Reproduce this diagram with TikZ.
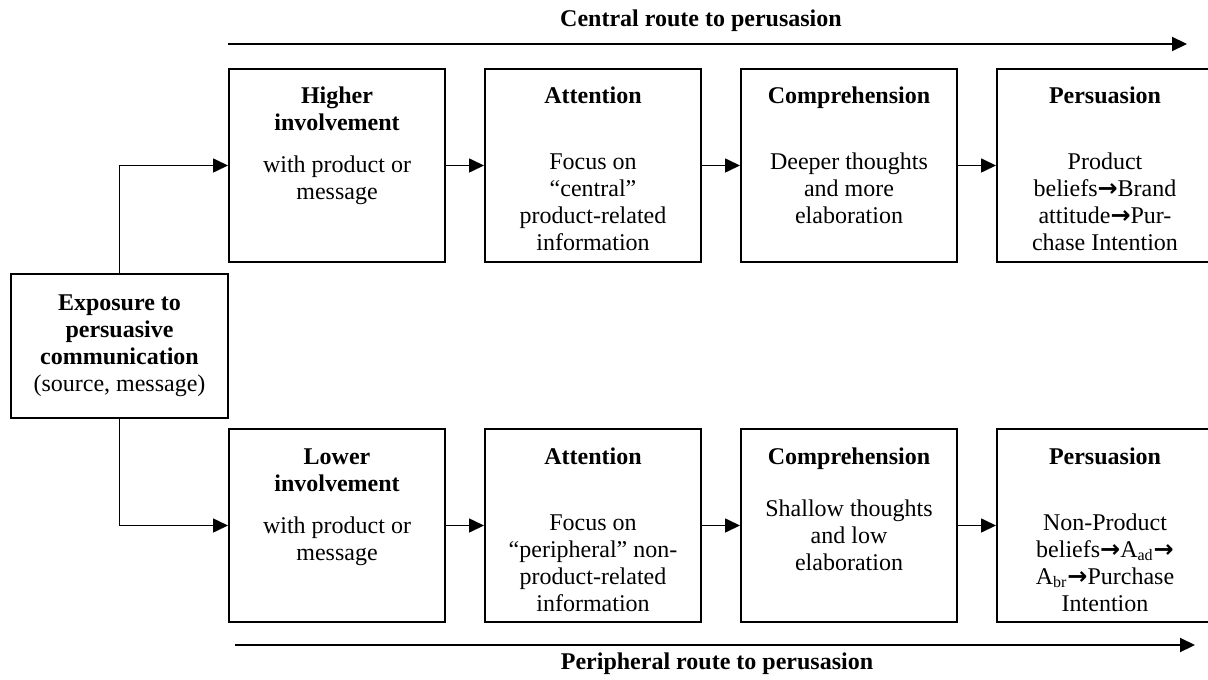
\documentclass[tikz,border=0pt]{standalone}
\usepackage{fontspec}
\setmainfont{Liberation Serif}
\newfontfamily\arrowfont{DejaVu Sans}
\usetikzlibrary{arrows.meta,positioning}

% text of one stage: bold title, gap, body
\newcommand{\stagebox}[3]{\parbox[t][96.5pt][t]{106pt}{\centering\rule{0pt}{17.5pt}\textbf{#1}\par\vspace{#2}#3}}
\newcommand{\goesto}{{\arrowfont\bfseries →}}

\begin{document}
\begin{tikzpicture}[
                x=0.5pt, y=-0.5pt,
                >={Triangle[length=7.5pt,width=7pt]},
                every node/.style={font=\fontsize{12}{13.5}\selectfont},
                stage/.style={draw, line width=1pt, inner sep=0pt, minimum width=108pt, minimum height=96.5pt},
                link/.style={->, line width=0.8pt},
                route/.style={->, line width=1pt},
                routelabel/.style={font=\fontsize{12}{13.5}\selectfont\bfseries}
            ]
            \useasboundingbox (0,0) rectangle (1208,679);

            % exposure box on the left
            \node[draw, line width=1pt, inner sep=0pt, minimum width=108.5pt, minimum height=72pt, align=center] (expo) at (119.5,346)
                {\textbf{Exposure to}\\\textbf{persuasive}\\\textbf{communication}\\(source, message)};

            % central route
            \node[stage, anchor=north west] (hi) at (228,68) {\stagebox{Higher\\involvement}{7.5pt}{with product or\\message}};
            \node[stage, right=19pt of hi] (att1) {\stagebox{Attention}{19.5pt}{Focus on\\“central”\\product-related\\information}};
            \node[stage, right=19pt of att1] (comp1) {\stagebox{Comprehension}{19.5pt}{Deeper thoughts\\and more\\elaboration}};
            \node[stage, right=19pt of comp1] (pers1) {\stagebox{Persuasion}{19.5pt}{Product\\beliefs\goesto Brand\\attitude\goesto Pur-\\chase Intention}};

            % peripheral route
            \node[stage, anchor=north west] (lo) at (228,428) {\stagebox{Lower\\involvement}{7.5pt}{with product or\\message}};
            \node[stage, right=19pt of lo] (att2) {\stagebox{Attention}{19.5pt}{Focus on\\“peripheral” non-\\product-related\\information}};
            \node[stage, right=19pt of att2] (comp2) {\stagebox{Comprehension}{12.5pt}{Shallow thoughts\\and low\\elaboration}};
            \node[stage, right=19pt of comp2] (pers2) {\stagebox{Persuasion}{19.5pt}{Non-Product\\beliefs\goesto A\textsubscript{ad}\goesto\\A\textsubscript{br}\goesto Purchase\\Intention}};

            \draw[link] (expo.north) |- (hi.west);
            \draw[link] (expo.south) |- (lo.west);
            \foreach \a/\b in {hi/att1, att1/comp1, comp1/pers1, lo/att2, att2/comp2, comp2/pers2}
                \draw[link] (\a) -- (\b);

            % route arrows and their labels
            \coordinate (cenA) at (228,44);
            \coordinate (cenB) at (1187,44);
            \draw[route] (cenA) -- (cenB);
            \node[routelabel] (cenlab) at (701,21) {Central route to perusasion};

            \coordinate (perA) at (235,645);
            \coordinate (perB) at (1195,645);
            \draw[route] (perA) -- (perB);
            \node[routelabel] (perlab) at (717,664) {Peripheral route to perusasion};
        \end{tikzpicture}
\end{document}
